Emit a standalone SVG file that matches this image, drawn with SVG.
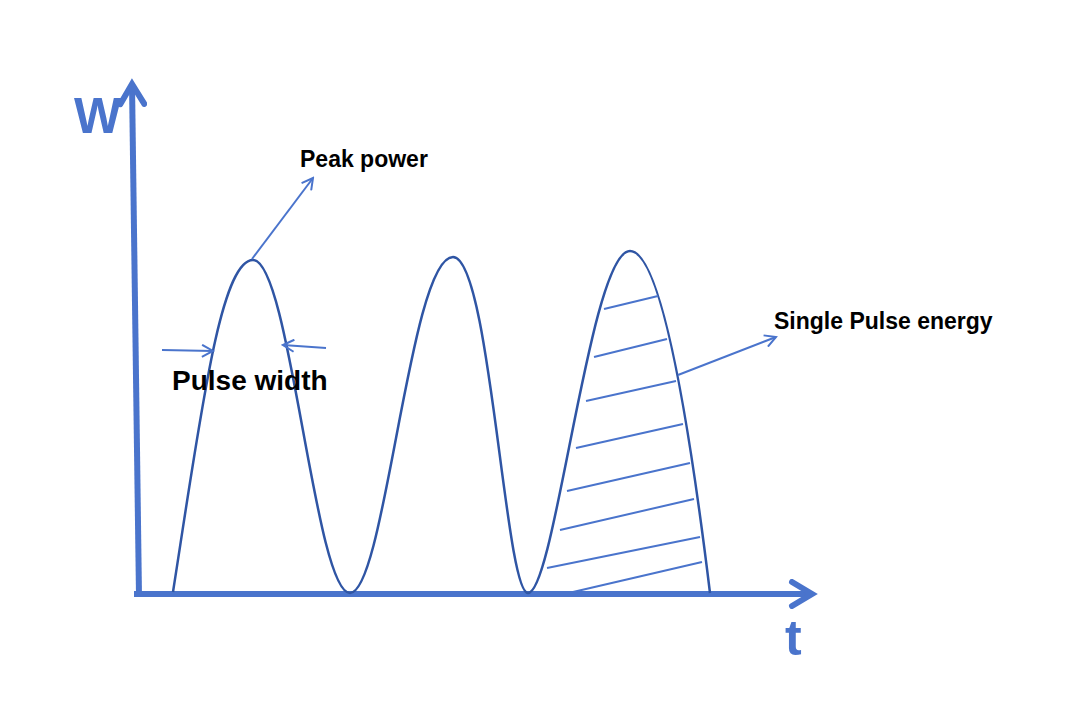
<svg xmlns="http://www.w3.org/2000/svg" width="1092" height="722" viewBox="0 0 1092 722">
<defs>
<marker id="open" markerWidth="14" markerHeight="14" refX="12" refY="7" orient="auto" markerUnits="userSpaceOnUse"><path d="M1,1 L12,7 L1,13" fill="none" stroke="#4a74cc" stroke-width="2"/></marker>
<marker id="axis" markerWidth="30" markerHeight="30" refX="24" refY="15" orient="auto" markerUnits="userSpaceOnUse"><path d="M4,3 L24,15 L4,27" fill="none" stroke="#4a74cc" stroke-width="6" stroke-linecap="round"/></marker>
</defs>
<style>
.ax{stroke:#4a74cc;stroke-width:6;fill:none}
.c{stroke:#2f55a4;stroke-width:2.5;fill:none}
.h{stroke:#4a74cc;stroke-width:2}
.lbl{font-family:"Liberation Sans",Arial,sans-serif;font-weight:bold;fill:#000}
.axl{font-family:"Liberation Sans",Arial,sans-serif;font-weight:bold;fill:#4a74cc}
</style>
<rect width="1092" height="722" fill="#fff"/>
<g id="axes">
<line class="ax" x1="139" y1="596" x2="132" y2="84" marker-end="url(#axis)"/>
<line class="ax" x1="134" y1="594" x2="812" y2="594" marker-end="url(#axis)"/>
</g>
<g id="curve">
<path class="c" d="M173,592 C200,420 220,260 253,260 C290,260 315,593 350,593 C385,593 410,257 453,257 C490,257 505,593 528,593 C555,593 590,251 630,251 C665,251 695,470 710,593"/>
</g>
<g id="hatch">
<line class="h" x1="604" y1="309" x2="658" y2="296"/>
<line class="h" x1="594" y1="357" x2="667" y2="339"/>
<line class="h" x1="586" y1="401" x2="676" y2="381"/>
<line class="h" x1="576" y1="448" x2="683" y2="424"/>
<line class="h" x1="567" y1="491" x2="690" y2="463"/>
<line class="h" x1="560" y1="530" x2="694" y2="499"/>
<line class="h" x1="547" y1="568" x2="700" y2="537"/>
<line class="h" x1="573" y1="592" x2="702" y2="562"/>
</g>
<g id="connectors">
<line class="h" x1="252" y1="259" x2="313" y2="178" marker-end="url(#open)"/>
<line class="h" x1="162" y1="350" x2="213" y2="351" marker-end="url(#open)"/>
<line class="h" x1="326" y1="348" x2="283" y2="345" marker-end="url(#open)"/>
<line class="h" x1="678" y1="375" x2="776" y2="337" marker-end="url(#open)"/>
</g>
<g id="labels">
<text class="axl" x="74" y="133" font-size="50">W</text>
<text class="axl" x="785" y="655" font-size="50">t</text>
<text class="lbl" x="300" y="167" font-size="23">Peak power</text>
<text class="lbl" x="172" y="390" font-size="28">Pulse width</text>
<text class="lbl" x="774" y="329" font-size="23">Single Pulse energy</text>
</g>
</svg>
